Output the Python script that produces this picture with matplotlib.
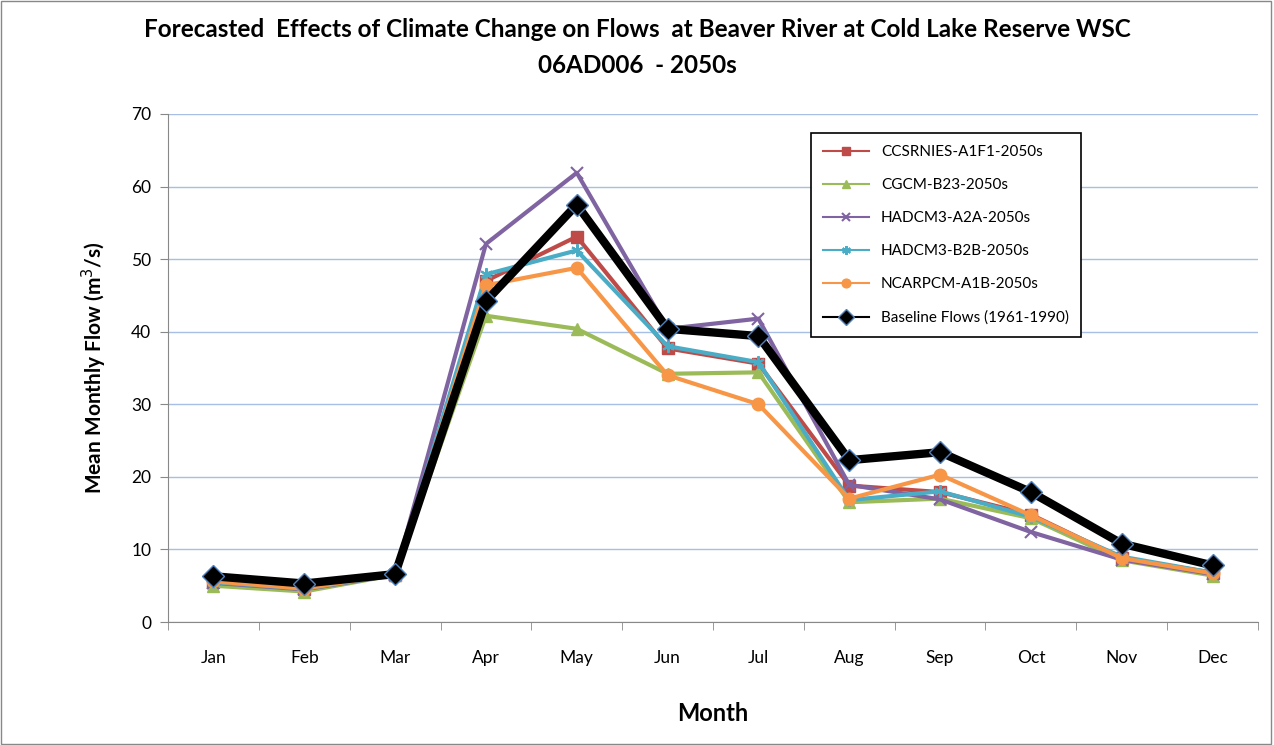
import numpy as np
import matplotlib.pyplot as plt
from matplotlib.patches import Rectangle

plt.rcParams['font.family'] = ['Lato', 'DejaVu Sans']

months = ['Jan', 'Feb', 'Mar', 'Apr', 'May', 'Jun', 'Jul', 'Aug', 'Sep', 'Oct', 'Nov', 'Dec']

ccsrnies = [5.5, 4.6, 6.5, 47.0, 53.1, 37.7, 35.6, 18.8, 17.9, 14.8, 8.8, 6.8]
cgcm = [5.0, 4.2, 6.5, 42.2, 40.4, 34.2, 34.4, 16.5, 17.0, 14.3, 8.5, 6.4]
hadcm3_a2a = [5.4, 4.5, 6.5, 52.1, 61.9, 40.4, 41.8, 18.9, 16.9, 12.4, 8.6, 6.6]
hadcm3_b2b = [5.5, 4.6, 6.5, 47.9, 51.2, 38.0, 35.8, 16.8, 18.0, 14.5, 9.0, 6.8]
ncarpcm = [5.6, 4.6, 6.6, 46.4, 48.8, 34.0, 30.0, 17.0, 20.3, 14.7, 8.8, 6.7]
baseline = [6.3, 5.3, 6.6, 44.2, 57.5, 40.4, 39.4, 22.3, 23.4, 17.9, 10.8, 7.8]

x = np.arange(1, 13)

fig = plt.figure(figsize=(12.74, 7.45), dpi=100)
ax = fig.add_axes([0.1319, 0.1651, 0.8555, 0.6819])

# outer border of the chart area
fig.patches.append(Rectangle((0.001, 0.001), 0.997, 0.997, transform=fig.transFigure,
                             fill=False, edgecolor='#888888', linewidth=1))

ax.plot(x, ccsrnies, color='#BE4B48', lw=3, marker='s', ms=9, label='CCSRNIES-A1F1-2050s')
ax.plot(x, cgcm, color='#9BBB59', lw=3, marker='^', ms=9, label='CGCM-B23-2050s')
ax.plot(x, hadcm3_a2a, color='#8064A2', lw=3, marker='x', ms=9, mew=1.5, label='HADCM3-A2A-2050s')
ax.plot(x, hadcm3_b2b, color='#4BACC6', lw=3, marker=(6, 2, 0), ms=9, mew=1.5, label='HADCM3-B2B-2050s')
ax.plot(x, ncarpcm, color='#F79646', lw=3, marker='o', ms=9, label='NCARPCM-A1B-2050s')
ax.plot(x, baseline, color='black', lw=6, marker='D', ms=11, mec='#4F81BD', mew=1,
        label='Baseline Flows (1961-1990)')

ax.set_xlim(0.5, 12.5)
ax.set_ylim(0, 70)
ax.set_yticks(np.arange(0, 71, 10))
ax.set_xticks(x)
ax.set_xticklabels(months)
ax.set_xticks(np.arange(0.5, 12.6, 1), minor=True)
ax.tick_params(axis='x', which='major', length=0, pad=20, labelsize=12.5)
ax.tick_params(axis='x', which='minor', length=6, color='#888888')
ax.tick_params(axis='y', length=6, color='#888888', labelsize=12.5, pad=6)

ax.grid(axis='y', color='#A7BFE4', linewidth=1)
ax.set_axisbelow(True)
for s in ['top', 'right']:
    ax.spines[s].set_visible(False)
ax.spines['left'].set_color('#888888')
ax.spines['bottom'].set_color('#888888')

ax.set_xlabel('Month', fontsize=17, fontweight='bold', labelpad=26)
ax.set_ylabel('Mean Monthly Flow (m$^3$/s)', fontsize=15, fontweight='bold', labelpad=16)

fig.suptitle('Forecasted  Effects of Climate Change on Flows  at Beaver River at Cold Lake Reserve WSC\n06AD006  - 2050s',
             fontsize=17.5, fontweight='bold', y=0.976, linespacing=1.7)

leg = ax.legend(loc='upper left', bbox_to_anchor=(0.5826, 0.978), fontsize=11,
                fancybox=False, edgecolor='black', framealpha=1, labelspacing=1.25,
                handlelength=3, borderpad=0.8, markerscale=0.7)
for line in leg.get_lines():
    line.set_linewidth(1.5)
leg.get_frame().set_linewidth(1.2)

plt.savefig('out.png', dpi=100)
